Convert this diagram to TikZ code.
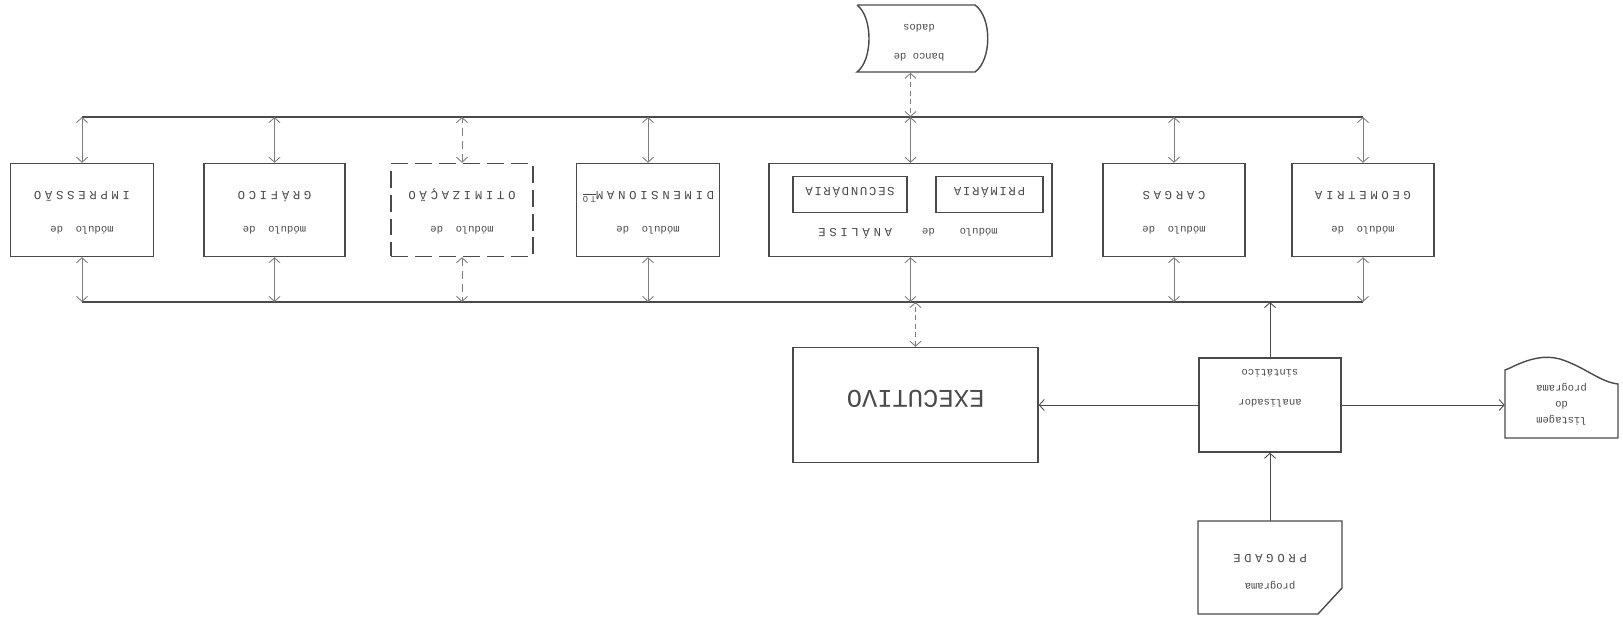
\documentclass[tikz,border=0pt]{standalone}
\usepackage{fontspec}
\setmainfont{Liberation Mono}
\newfontfamily\capsfont{Liberation Mono}[LetterSpace=30]
\newfontfamily\tightcaps{Liberation Mono}[LetterSpace=14]
\usetikzlibrary{arrows.meta,calc}
\definecolor{ink}{HTML}{4A4A4A}
\definecolor{faint}{HTML}{7E7E7E}
\newcommand\flip[2][2.5]{\rotatebox[origin=c]{180}{\renewcommand\arraystretch{#1}\begin{tabular}{@{}c@{}}#2\end{tabular}}}
\newcommand\down[2][5pt]{\raisebox{-#1}[0pt][0pt]{$\vcenter{\hbox{#2}}$}}
\newcommand\lc[1]{{\normalfont\fontsize{6}{7}\selectfont #1}}
\newcommand\modtxt[1]{\down{\flip{\lc{módulo~~de}\\#1}}}

\begin{document}
\begin{tikzpicture}[
    x=0.02cm,y=-0.02cm,
    >={Straight Barb[length=1mm,width=2.2mm]},
    modbox/.style={draw=ink,line width=0.8pt,minimum height=1.86cm,inner sep=0pt,text=ink,font=\capsfont\fontsize{7}{8}\selectfont},
    inbox/.style={draw=ink,line width=0.6pt,minimum height=0.7cm,inner sep=0pt,text=ink,font=\tightcaps\fontsize{7}{8}\selectfont},
    plain/.style={inner sep=0pt,text=ink,font=\fontsize{6}{7}\selectfont},
    bus/.style={draw=ink,line width=1.1pt},
    link/.style={draw=faint,line width=0.5pt,<->},
    feed/.style={draw=ink,line width=0.5pt,->}
  ]
    \useasboundingbox (0,0) rectangle (1623,619);

    % barramentos
    \coordinate (tl) at (82,117);
    \coordinate (tr) at (1363,117);
    \coordinate (bl) at (82,302);
    \coordinate (br) at (1363,302);
    \draw[bus] (tl) -- (tr);
    \draw[bus] (bl) -- (br);

    % modulos
    \node[modbox,minimum width=2.86cm] (imp) at (82,210) {\modtxt{IMPRESSÃO}};
    \node[modbox,minimum width=2.82cm] (graf) at (274.5,210) {\modtxt{GRÁFICO}};
    \node[modbox,minimum width=2.84cm,dash pattern=on 3.4mm off 1.4mm] (otim) at (462,210) {\modtxt{OTIMIZAÇÃO}};
    \node[modbox,minimum width=2.86cm] (dim) at (648,210) {\modtxt{DIMENSIONAM\textsuperscript{\underline{TO}}}};
    \node[modbox,minimum width=5.66cm] (anal) at (910.5,210) {};
    \node[inbox,minimum width=2.14cm] (prim) at (989.5,194.5) {\flip{PRIMÁRIA}};
    \node[inbox,minimum width=2.28cm] (sec) at (850,194.5) {\flip{SECUNDÁRIA}};
    \node[plain,font=\capsfont\fontsize{7}{8}\selectfont] (anallbl) at (908,232) {\down[4pt]{\flip{\lc{módulo}\hspace{5mm}\lc{de}\hspace{6mm}ANÁLISE}}};
    \node[modbox,minimum width=2.84cm] (carg) at (1174,210) {\modtxt{CARGAS}};
    \node[modbox,minimum width=2.84cm] (geom) at (1363,210) {\modtxt{GEOMETRIA}};

    \foreach \m in {imp,graf,dim,anal,carg,geom} {
      \draw[link] (\m.north) -- (\m.north |- tl);
      \draw[link] (\m.south) -- (\m.south |- bl);
    }
    \draw[link,dash pattern=on 1.6mm off 1mm] (otim.north) -- (otim.north |- tl);
    \draw[link,dash pattern=on 1.6mm off 1mm] (otim.south) -- (otim.south |- bl);

    % banco de dados
    \draw[draw=ink,line width=0.8pt] (857,5) -- (975,5) .. controls (992,17) and (992,60) .. (975,72)
      -- (857,72) .. controls (873,60) and (873,17) .. (857,5);
    \node[plain,minimum height=1.34cm,minimum width=2cm] (banco) at (919,39) {\down[5pt]{\flip[2.35]{banco~de\\dados}}};
    \draw[link,dash pattern=on 1mm off 0.7mm] (banco.south -| anal.north) -- (anal.north |- tl);

    % executivo e analisador
    \node[draw=ink,line width=0.8pt,minimum width=4.9cm,minimum height=2.3cm,text=ink,font=\fontsize{14.5}{16}\selectfont] (exec) at (915.5,405) {\flip{EXECUTIVO}};
    \draw[link,dash pattern=on 1mm off 0.7mm] (exec.north) -- (exec.north |- bl);

    \node[draw=ink,line width=0.8pt,minimum width=2.84cm,minimum height=1.88cm,plain] (sint) at (1270,405) {\flip[2.4]{\mbox{}\\analisador\\sintático}};
    \draw[feed] (sint.west) -- (exec.east);
    \draw[feed] (sint.north) -- (sint.north |- bl);

    % listagem
    \draw[draw=ink,line width=0.8pt] (1505,438) -- (1505,370) -- (1510,368) .. controls (1530,358) and (1545,355) .. (1560,359)
      .. controls (1585,367) and (1600,382) .. (1618,384) -- (1618,438) -- cycle;
    \node[plain,minimum width=2.26cm] (list) at (1561.5,405) {\flip[1.3]{listagem\\do\\programa}};
    \draw[feed] (sint.east) -- (list.west);

    % programa
    \draw[draw=ink,line width=0.8pt] (1198,521) -- (1342,521) -- (1342,588) -- (1318,614) -- (1198,614) -- cycle;
    \node[plain,minimum width=2.88cm,minimum height=1.86cm,font=\capsfont\fontsize{7}{8}\selectfont] (prog) at (1270,567.5) {\down[6pt]{\flip[2.05]{\lc{programa}\\PROGADE}}};
    \draw[feed] (prog.north) -- (sint.south);
\end{tikzpicture}
\end{document}
